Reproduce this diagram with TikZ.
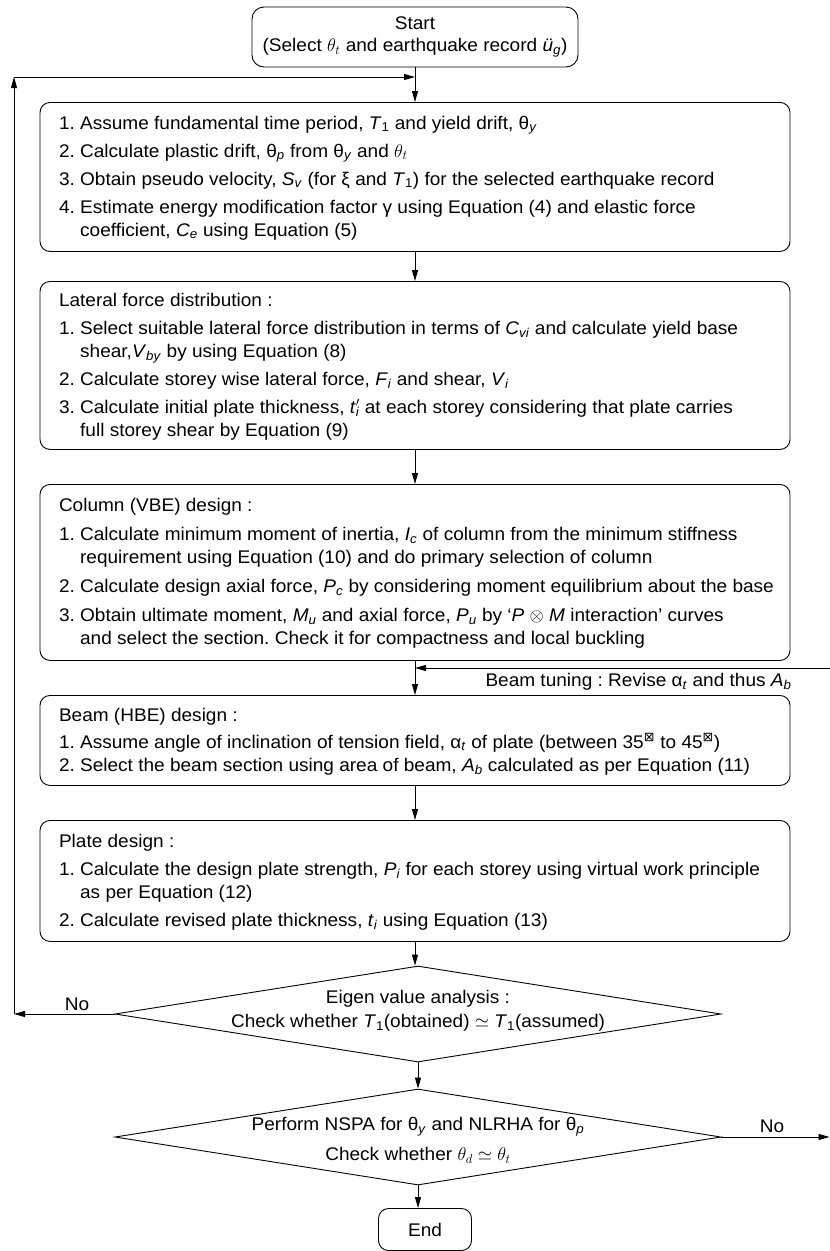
\RequirePackage{fix-cm}
\documentclass[tikz,border=0pt]{standalone}
\usepackage{fontspec}
\setmainfont{Liberation Sans}[FakeStretch=1.04]
\newfontfamily\djv{DejaVu Sans}
\usetikzlibrary{shapes.geometric,arrows.meta}
\newcommand\iv[2]{\textit{#1}\textsubscript{\textit{#2}}}
\newcommand\nv[2]{\textit{#1}\textsubscript{#2}}
\newcommand\thx[1]{θ\textsubscript{\textit{#1}}}
\newcommand\hg{\phantom{1.\ }}
\newcommand\degbox{\textsuperscript{\djv ⊠}}
\frenchspacing
\begin{document}
\begin{tikzpicture}[x=1pt,y=-1pt,line width=0.9pt,
  font=\fontsize{18.3}{23}\selectfont\frenchspacing,
  arr/.style={-{Triangle[length=11pt,width=6pt]}},
  box/.style={draw,rounded corners=10pt,anchor=north,minimum width=750pt,inner sep=0pt},
  txt/.style={anchor=west,align=left,inner sep=0pt},
  dia/.style={draw,diamond,minimum width=606pt,minimum height=96pt,inner sep=0pt},
  lbl/.style={inner sep=0pt,align=center}]
\useasboundingbox (0,0) rectangle (830,1251);

\node[draw,rounded corners=12pt,minimum width=326pt,minimum height=60pt,inner sep=0pt,
  align=center,font=\fontsize{18.3}{22}\selectfont] (start) at (415,37)
  {Start\\(Select $\theta_t$ and earthquake record \iv{ü}{g})};

\node[box,minimum height=149pt] (b1) at (415,102) {};
\node[txt] (b1t) at ([xshift=19pt,yshift=-1pt]b1.west) {%
1. Assume fundamental time period, \nv{T}{1} and yield drift, \thx{y}\\[5pt]
2. Calculate plastic drift, \thx{p} from \thx{y} and $\theta_t$\\[5pt]
3. Obtain pseudo velocity, \iv{S}{v} (for ξ and \nv{T}{1}) for the selected earthquake record\\[5pt]
4. Estimate energy modification factor γ using Equation (4) and elastic force\\
\hg coefficient, \iv{C}{e} using Equation (5)};

\node[box,minimum height=168pt] (b2) at (415,281) {};
\node[txt] (b2t) at ([xshift=19pt,yshift=-1pt]b2.west) {%
Lateral force distribution :\\[5pt]
1. Select suitable lateral force distribution in terms of \iv{C}{vi} and calculate yield base\\
\hg shear,\iv{V}{by} by using Equation (8)\\[5pt]
2. Calculate storey wise lateral force, \iv{F}{i} and shear, \iv{V}{i}\\[5pt]
3. Calculate initial plate thickness, \textit{t}\rlap{\textsuperscript{$\prime$}}\textsubscript{\textit{i}} at each storey considering that plate carries\\
\hg full storey shear by Equation (9)};

\node[box,minimum height=176pt] (b3) at (415,484) {};
\node[txt] (b3t) at ([xshift=19pt,yshift=-1pt]b3.west) {%
Column (VBE) design :\\[6pt]
1. Calculate minimum moment of inertia, \iv{I}{c} of column from the minimum stiffness\\
\hg requirement using Equation (10) and do primary selection of column\\[6pt]
2. Calculate design axial force, \iv{P}{c} by considering moment equilibrium about the base\\[6pt]
3. Obtain ultimate moment, \iv{M}{u} and axial force, \iv{P}{u} by ‘\textit{P} $\otimes$ \textit{M} interaction’ curves\\
\hg and select the section. Check it for compactness and local buckling};

\node[box,minimum height=90pt] (b4) at (415,695) {};
\node[txt] (b4t) at ([xshift=19pt,yshift=-1pt]b4.west) {%
Beam (HBE) design :\\[4pt]
1. Assume angle of inclination of tension field, α\textsubscript{\textit{t}} of plate (between 35\degbox{} to 45\degbox)\\[0pt]
2. Select the beam section using area of beam, \iv{A}{b} calculated as per Equation (11)};

\node[box,minimum height=121pt] (b5) at (415,820) {};
\node[txt] (b5t) at ([xshift=19pt,yshift=-1pt]b5.west) {%
Plate design :\\[5pt]
1. Calculate the design plate strength, \iv{P}{i} for each storey using virtual work principle\\
\hg as per Equation (12)\\[5pt]
2. Calculate revised plate thickness, \iv{t}{i} using Equation (13)};

\node[dia] (d1) at (418,1014) {};
\node[lbl,font=\fontsize{18.3}{24}\selectfont] (d1t) at (418,1011)
  {Eigen value analysis :\\Check whether \nv{T}{1}(obtained) $\simeq$ \nv{T}{1}(assumed)};
\node[dia] (d2) at (418,1137) {};
\node[lbl] (d2t) at (418,1140)
  {Perform NSPA for \thx{y} and NLRHA for \thx{p}\\[7pt]Check whether $\theta_d \simeq \theta_t$};

\node[draw,rounded corners=10pt,minimum width=93pt,minimum height=42pt,inner sep=0pt] (end) at (425,1229.5) {End};

\draw[arr] (start.south) -- (b1.north);
\draw[arr] (b1.south) -- (b2.north);
\draw[arr] (b2.south) -- (b3.north);
\draw[arr] (b3.south) -- (b4.north);
\draw[arr] (b4.south) -- (b5.north);
\draw[arr] (b5.south) -- (b5.south |- d1.north);
\draw[arr] (d1.south) -- (d2.north);
\draw[arr] (d2.south) -- (d2.south |- end.north);

\coordinate (jn) at (415,77);
\coordinate (lt) at (14,77);
\coordinate (lb) at (lt |- d1.west);
\draw[arr] (d1.west) -- (lb);
\draw[arr] (lb) -- (lt);
\draw[arr] (lt) -- (jn);
\node[lbl] (no1) at (77,1004) {No};

\coordinate (rx) at (829.5,0);
\draw[arr] (d2.east) -- (d2.east -| rx);
\node[lbl] (no2) at (772,1126) {No};

\coordinate (bt) at (830,668);
\draw[arr] (bt) -- (bt -| b3.south);
\node[lbl,anchor=east] (btl) at (792,682) {Beam tuning : Revise α\textsubscript{\textit{t}} and thus \iv{A}{b}};
\end{tikzpicture}
\end{document}
